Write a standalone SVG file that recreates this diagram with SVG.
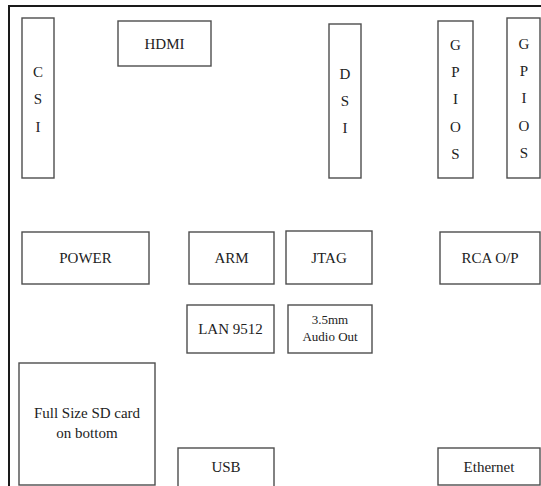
<svg xmlns="http://www.w3.org/2000/svg" width="541" height="486" viewBox="0 0 541 486">
<style>
.frame{fill:none;stroke:#1a1a1a;stroke-width:2}
.box{fill:#fff;stroke:#4d4d4d;stroke-width:1.4}
text{font-family:"Liberation Serif","Times New Roman","DejaVu Serif",serif;font-size:15px;fill:#222;text-anchor:middle}
.sm{font-size:13px}
</style>
<rect width="541" height="486" fill="#fff"/>
<path class="frame" d="M9,486 V6 H541"/>
<g id="csi"><rect class="box" x="22" y="18" width="32" height="160"/>
<text x="38" y="77">C</text><text x="38" y="104">S</text><text x="38" y="132">I</text></g>
<g id="hdmi"><rect class="box" x="118" y="21" width="93" height="45"/><text x="164.5" y="49">HDMI</text></g>
<g id="dsi"><rect class="box" x="329" y="24" width="32" height="154"/>
<text x="345" y="79">D</text><text x="345" y="106">S</text><text x="345" y="133">I</text></g>
<g id="gpios1"><rect class="box" x="438" y="21" width="35" height="157"/>
<text x="455.5" y="50">G</text><text x="455.5" y="77">P</text><text x="455.5" y="104">I</text><text x="455.5" y="132">O</text><text x="455.5" y="159">S</text></g>
<g id="gpios2"><rect class="box" x="507" y="18" width="33" height="160"/>
<text x="524" y="49">G</text><text x="524" y="76">P</text><text x="524" y="103">I</text><text x="524" y="131">O</text><text x="524" y="158">S</text></g>
<g id="power"><rect class="box" x="22" y="232" width="127" height="52"/><text x="85.5" y="263">POWER</text></g>
<g id="arm"><rect class="box" x="189" y="232" width="85" height="52"/><text x="231.5" y="263">ARM</text></g>
<g id="jtag"><rect class="box" x="286" y="231" width="86" height="53"/><text x="329" y="263">JTAG</text></g>
<g id="rca"><rect class="box" x="440" y="232" width="100" height="52"/><text x="490" y="263">RCA O/P</text></g>
<g id="lan"><rect class="box" x="187" y="305" width="87" height="48"/><text x="230.5" y="334">LAN 9512</text></g>
<g id="audio"><rect class="box" x="288" y="305" width="84" height="48"/>
<text class="sm" x="330" y="324">3.5mm</text><text class="sm" x="330" y="341">Audio Out</text></g>
<g id="sdcard"><rect class="box" x="19" y="363" width="136" height="122"/>
<text x="87" y="418">Full Size SD card</text><text x="87" y="438">on bottom</text></g>
<g id="usb"><rect class="box" x="178" y="448" width="96" height="40"/><text x="226" y="472">USB</text></g>
<g id="ethernet"><rect class="box" x="438" y="448" width="102" height="37"/><text x="489" y="472">Ethernet</text></g>
<g id="connectors"></g>
</svg>
